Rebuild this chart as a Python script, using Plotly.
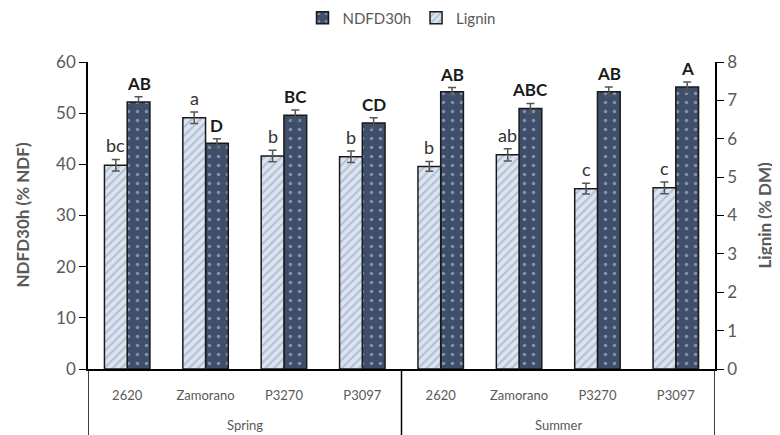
import plotly.graph_objects as go

seasons = ["Spring", "Summer"]
hybrids = ["2620", "Zamorano", "P3270", "P3097"]
tick_labels = hybrids * len(seasons)
ndfd = [52.2, 44.1, 49.6, 48.1, 54.2, 50.9, 54.2, 55.1]
ndfd_err = [1.0, 0.9, 1.0, 1.0, 0.8, 1.0, 0.9, 1.0]
ndfd_letters = ["AB", "D", "BC", "CD", "AB", "ABC", "AB", "A"]
lignin = [5.31, 6.55, 5.55, 5.53, 5.28, 5.58, 4.70, 4.72]
lignin_err = [0.15, 0.15, 0.15, 0.15, 0.13, 0.16, 0.14, 0.15]
lignin_letters = ["bc", "a", "b", "b", "b", "ab", "c", "c"]
y_title_left = "NDFD30h (% NDF)"
y_title_right = "Lignin (% DM)"

FONT = "Lato"
GRAY = "#595959"
bargap = 0.42
half = (1 - bargap) / 4
n = len(tick_labels)
xpos = list(range(n))
PH = 307.0  # plot height in px
PW = 627.0

fig = go.Figure()
fig.add_trace(go.Bar(
    x=xpos, y=lignin, name="Lignin", yaxis="y2",
    offsetgroup="1", legendrank=2,
    marker=dict(color="#dbe4f0", line=dict(color="#1a1a1a", width=1.5),
                pattern=dict(shape="/", fgcolor="#8a9bb5", bgcolor="#dbe4f0",
                             size=6, solidity=0.35)),
    error_y=dict(type="data", array=lignin_err, color="#555555", thickness=1.5, width=4),
))
fig.add_trace(go.Bar(
    x=xpos, y=ndfd, name="NDFD30h", yaxis="y",
    offsetgroup="2", legendrank=1,
    marker=dict(color="#3f4f6b", line=dict(color="#1a1a1a", width=1.5),
                pattern=dict(shape=".", fgcolor="#c8d2e2", bgcolor="#3f4f6b",
                             size=9, solidity=0.12)),
    error_y=dict(type="data", array=ndfd_err, color="#555555", thickness=1.5, width=4),
))

annotations = []
for i in range(n):
    annotations.append(dict(
        x=i - half, y=lignin[i] + lignin_err[i], xref="x", yref="y2",
        text=lignin_letters[i], showarrow=False, yanchor="bottom", yshift=1,
        font=dict(family=FONT, size=18, color="#333333")))
    annotations.append(dict(
        x=i + half, y=ndfd[i] + ndfd_err[i], xref="x", yref="y",
        text="<b>" + ndfd_letters[i] + "</b>", showarrow=False, yanchor="bottom", yshift=1,
        font=dict(family=FONT, size=17, color="#1a1a1a")))

# season group labels and dividers
ng = len(hybrids)
shapes = []
for g, s in enumerate(seasons):
    annotations.append(dict(
        x=g * ng + (ng - 1) / 2, y=-56 / PH, xref="x", yref="paper", text=s,
        showarrow=False, xanchor="center", yanchor="middle",
        font=dict(family=FONT, size=13, color=GRAY)))
for g in range(len(seasons) + 1):
    shapes.append(dict(type="line", xref="x", yref="paper",
                       x0=g * ng - 0.5, x1=g * ng - 0.5, y0=0, y1=-70 / PH,
                       line=dict(color="black", width=1.5)))

annotations.append(dict(
    x=-66 / PW, y=0.5, xref="paper", yref="paper", text="<b>" + y_title_left + "</b>",
    textangle=-90, showarrow=False, xanchor="center", yanchor="middle",
    font=dict(family=FONT, size=17, color=GRAY)))
annotations.append(dict(
    x=1 + 49 / PW, y=0.5, xref="paper", yref="paper", text="<b>" + y_title_right + "</b>",
    textangle=-90, showarrow=False, xanchor="center", yanchor="middle",
    font=dict(family=FONT, size=17, color=GRAY)))

fig.update_layout(
    width=780, height=435,
    margin=dict(l=80, r=73, t=54, b=74, autoexpand=False),
    paper_bgcolor="white", plot_bgcolor="white",
    barmode="group", bargap=bargap, bargroupgap=0,
    font=dict(family=FONT, color=GRAY),
    showlegend=True,
    legend=dict(orientation="h", x=0.5, xanchor="center", y=1 + 44 / PH, yref="paper",
                yanchor="middle", font=dict(size=15, color=GRAY),
                traceorder="normal"),
    xaxis=dict(range=[-0.5, n - 0.5], tickvals=xpos, ticktext=tick_labels,
               showline=True, linecolor="black", linewidth=1.5, showgrid=False,
               zeroline=False, ticks="", tickfont=dict(size=13, color=GRAY),
               ticklabelstandoff=14, automargin=False),
    yaxis=dict(range=[0, 60], dtick=10, showgrid=False, zeroline=False, automargin=False,
               showline=True, linecolor="black", linewidth=1.5, ticks="outside",
               ticklen=7, tickcolor="black", tickfont=dict(size=17, color=GRAY)),
    yaxis2=dict(range=[0, 8], dtick=1, overlaying="y", side="right", showgrid=False,
                zeroline=False, showline=True, linecolor="black", linewidth=1.5,
                ticks="outside", ticklen=7, tickcolor="black", automargin=False,
                tickfont=dict(size=17, color=GRAY)),
    annotations=annotations,
    shapes=shapes,
)

fig.write_html("out.html")
